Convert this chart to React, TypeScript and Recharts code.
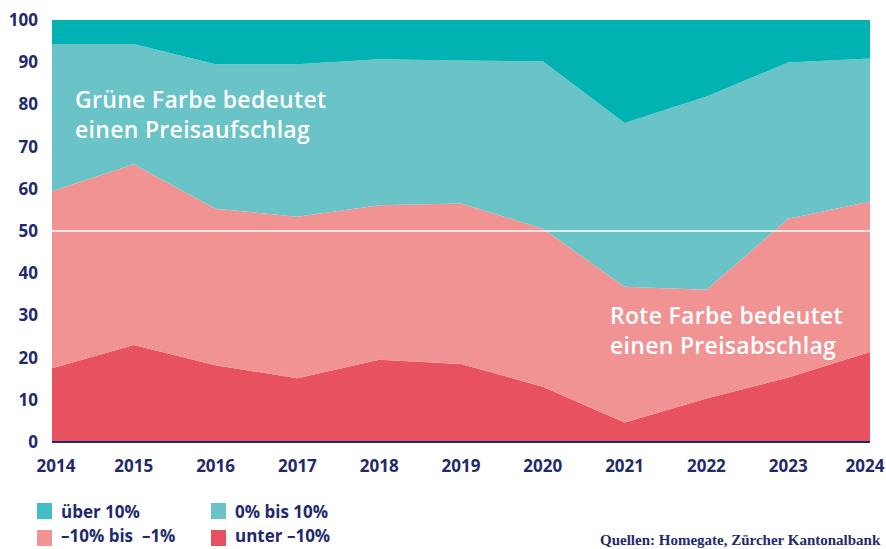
import { AreaChart, Area, XAxis, YAxis, ReferenceLine } from 'recharts';

const YEARS = ['2014', '2015', '2016', '2017', '2018', '2019', '2020', '2021', '2022', '2023', '2024'];
const UNTER_MINUS_10 = [17.5, 23, 18.2, 15.1, 19.5, 18.5, 13.1, 4.6, 10.3, 15.3, 21.3];
const MINUS_10_BIS_MINUS_1 = [41.9, 42.8, 37.1, 38.3, 36.6, 38, 37.5, 32.2, 25.8, 37.6, 35.7];
const NULL_BIS_10 = [34.9, 28.5, 34.2, 36.1, 34.6, 33.9, 39.6, 38.8, 45.8, 37, 33.9];
const UEBER_10 = [5.7, 5.7, 10.5, 10.5, 9.3, 9.6, 9.8, 24.4, 18.1, 10.1, 9.1];
const Y_TICKS = [0, 10, 20, 30, 40, 50, 60, 70, 80, 90, 100];

const NAVY = '#1f2a6c';
const FONT = '"Open Sans", "Noto Sans", sans-serif';

const COLORS = {
  ueber: '#00b2b1',
  null10: '#69c3c7',
  minus1: '#f29393',
  unter: '#e85260',
};

const data = YEARS.map((year, i) => ({
  year,
  unter: UNTER_MINUS_10[i],
  minus1: MINUS_10_BIS_MINUS_1[i],
  null10: NULL_BIS_10[i],
  ueber: UEBER_10[i],
}));

const LEGEND = [
  { key: 'ueber', label: 'über 10%', color: '#45bdc7' },
  { key: 'null10', label: '0% bis 10%', color: '#69c3c7' },
  { key: 'minus1', label: '–10% bis  –1%', color: '#f29393' },
  { key: 'unter', label: 'unter –10%', color: '#e85260' },
];

const YearTick = ({ x, y, payload, index }: any) => {
  const nudge = index === 0 ? 4 : index === YEARS.length - 1 ? -5 : 0;
  return (
    <text
      x={x + nudge}
      y={y}
      dy="0.71em"
      textAnchor="middle"
      fill={NAVY}
      fontSize={17}
      fontWeight={700}
      fontFamily={FONT}
    >
      {payload.value}
    </text>
  );
};

const noteStyle: React.CSSProperties = {
  position: 'absolute',
  color: '#fff',
  fontFamily: FONT,
  fontWeight: 600,
  fontSize: 23,
  lineHeight: '30px',
  letterSpacing: 0.3,
  whiteSpace: 'nowrap',
};

export default function App() {
  return (
    <div
      style={{
        position: 'absolute',
        left: 0,
        top: 0,
        width: 886,
        height: 549,
        overflow: 'hidden',
        background: '#fff',
      }}
    >
      <AreaChart width={886} height={480} data={data} margin={{ top: 20, right: 16, left: 0, bottom: 0 }}>
        <XAxis
          dataKey="year"
          interval={0}
          axisLine={{ stroke: NAVY, strokeWidth: 2 }}
          tickLine={false}
          tickSize={0}
          tickMargin={18}
          height={38}
          tick={<YearTick />}
        />
        <YAxis
          domain={[0, 100]}
          ticks={Y_TICKS}
          width={52}
          axisLine={false}
          tickLine={false}
          tickSize={0}
          tickMargin={14}
          tick={{ fill: NAVY, fontSize: 17, fontWeight: 700, fontFamily: FONT }}
        />
        <Area dataKey="unter" stackId="a" type="linear" fill={COLORS.unter} stroke="none" fillOpacity={1} isAnimationActive={false} />
        <Area dataKey="minus1" stackId="a" type="linear" fill={COLORS.minus1} stroke="none" fillOpacity={1} isAnimationActive={false} />
        <Area dataKey="null10" stackId="a" type="linear" fill={COLORS.null10} stroke="none" fillOpacity={1} isAnimationActive={false} />
        <Area dataKey="ueber" stackId="a" type="linear" fill={COLORS.ueber} stroke="none" fillOpacity={1} isAnimationActive={false} />
        <ReferenceLine y={50} stroke="#ffffff" strokeWidth={1.5} />
      </AreaChart>

      <div style={{ ...noteStyle, left: 75, top: 84 }}>
        Grüne Farbe bedeutet
        <br />
        einen Preisaufschlag
      </div>
      <div style={{ ...noteStyle, left: 610, top: 300 }}>
        Rote Farbe bedeutet
        <br />
        einen Preisabschlag
      </div>

      {LEGEND.map((item, i) => {
        const left = i % 2 === 0 ? 37 : 211;
        const row = Math.floor(i / 2);
        return (
          <div key={item.key}>
            <span
              style={{
                position: 'absolute',
                left,
                top: 503 + row * 27,
                width: 15,
                height: 16,
                background: item.color,
              }}
            />
            <span
              style={{
                position: 'absolute',
                left: left + 24,
                top: 503 + row * 24,
                fontFamily: FONT,
                fontWeight: 700,
                fontSize: 17,
                lineHeight: '18px',
                color: NAVY,
                whiteSpace: 'pre',
              }}
            >
              {item.label}
            </span>
          </div>
        );
      })}

      <div
        style={{
          position: 'absolute',
          left: 600,
          top: 533,
          fontFamily: '"Liberation Serif", serif',
          fontWeight: 700,
          fontSize: 15,
          lineHeight: '14px',
          color: NAVY,
          whiteSpace: 'nowrap',
        }}
      >
        Quellen: Homegate, Zürcher Kantonalbank
      </div>
    </div>
  );
}
